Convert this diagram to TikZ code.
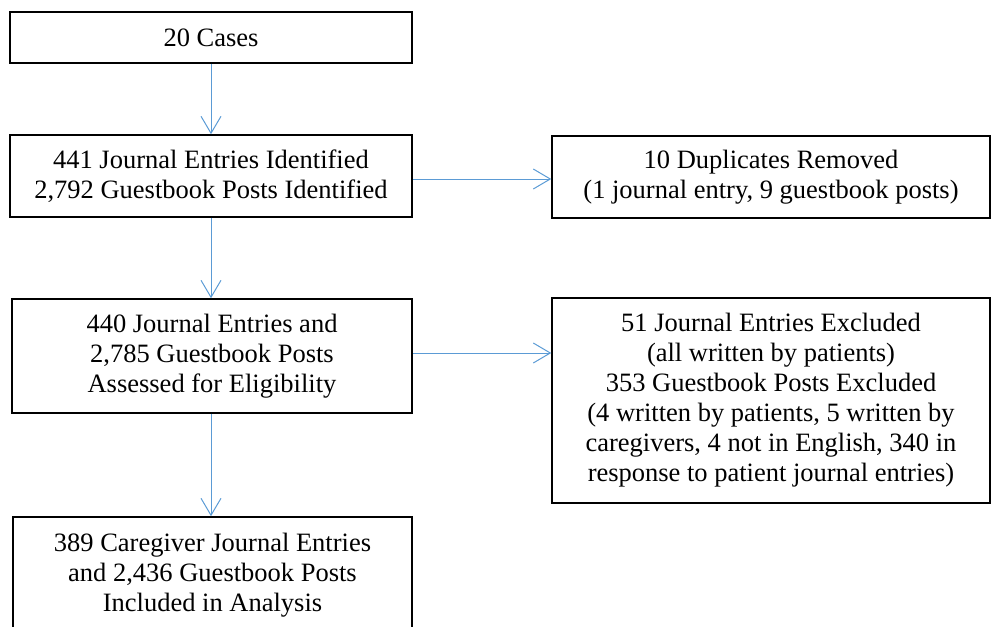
\documentclass[tikz,border=0pt]{standalone}
\usepackage{fontspec}
\setmainfont{Liberation Serif}
\usetikzlibrary{arrows.meta}
\definecolor{arrowblue}{HTML}{5B9BD5}
\begin{document}
\begin{tikzpicture}[x=1pt,y=-1pt,
  box/.style={draw=black,line width=1.5pt,align=center,inner sep=0pt,
    font=\fontsize{26.5}{30}\selectfont},
  conn/.style={draw=arrowblue,line width=1pt,-{Straight Barb[length=17pt,width=20pt,line width=1pt]}}]
\useasboundingbox (0,0) rectangle (992,626);
\clip (0,0) rectangle (992,626);
\node[box,minimum width=402pt,minimum height=51pt] (cases) at (211,37.5) {20 Cases};
\node[box,minimum width=402pt,minimum height=82pt] (ident) at (211,176) {441 Journal Entries Identified\\2,792 Guestbook Posts Identified};
\node[box,minimum width=400pt,minimum height=114pt] (assess) at (212,356) {440 Journal Entries and\\2,785 Guestbook Posts\\Assessed for Eligibility};
\node[box,minimum width=399pt,minimum height=116pt] (incl) at (212.5,575) {389 Caregiver Journal Entries\\and 2,436 Guestbook Posts\\Included in Analysis};
\node[box,minimum width=438pt,minimum height=82pt] (dup) at (771,177) {10 Duplicates Removed\\(1 journal entry, 9 guestbook posts)};
\node[box,minimum width=438pt,minimum height=205pt] (excl) at (771,400.5) {51 Journal Entries Excluded\\(all written by patients)\\353 Guestbook Posts Excluded\\(4 written by patients, 5 written by\\caregivers, 4 not in English, 340 in\\response to patient journal entries)};
\draw[conn] (cases.south -| 211,0) -- (ident.north -| 211,0);
\draw[conn] (ident.south -| 211,0) -- (assess.north -| 211,0);
\draw[conn] (assess.south -| 211,0) -- (incl.north -| 211,0);
\draw[conn] (ident.east |- 0,179) -- (dup.west |- 0,179);
\draw[conn] (assess.east |- 0,353) -- (excl.west |- 0,353);
\end{tikzpicture}
\end{document}
